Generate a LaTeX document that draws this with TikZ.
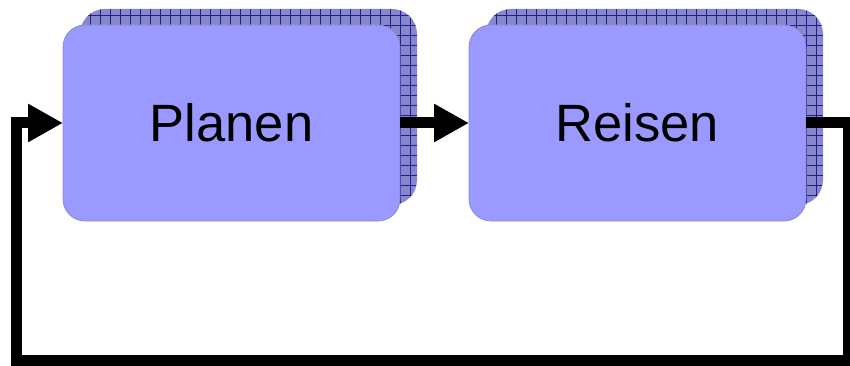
\documentclass[tikz,border=0pt]{standalone}
\usepackage{fontspec}
\setmainfont{Liberation Sans}
\usetikzlibrary{arrows.meta}
\definecolor{frontc}{RGB}{153,153,255}
\definecolor{edgec}{RGB}{140,140,200}
\definecolor{shadc}{RGB}{135,135,205}
\definecolor{gridc}{RGB}{30,30,140}
\begin{document}
\begin{tikzpicture}[x=1pt,y=-1pt,
  box/.style={draw=edgec,line width=0.8pt,fill=frontc,rounded corners=22pt,
    minimum width=337pt,minimum height=196pt,inner sep=0pt,outer sep=0pt,
    font=\fontsize{52.5}{60}\selectfont},
  shadowbox/.style={fill=shadc,rounded corners=25pt,
    minimum width=337pt,minimum height=196pt,inner sep=0pt,outer sep=0pt,
    path picture={
      \foreach \i in {0,10,...,340} {
        \draw[gridc,line width=0.65pt]
          ([xshift=\i pt]path picture bounding box.south west) --
          ([xshift=\i pt]path picture bounding box.north west);}
      \foreach \j in {0,10,...,200} {
        \draw[gridc,line width=0.65pt]
          ([yshift=\j pt]path picture bounding box.south west) --
          ([yshift=\j pt]path picture bounding box.south east);}
    }},
  conn/.style={line width=11pt,miter limit=10,
    -{Triangle[length=35pt,width=36pt]}}
]
\useasboundingbox (0,0) rectangle (850,366);
\node[shadowbox] (planS) at (248.5,107) {};
\node[shadowbox] (reisS) at (654.5,107) {};
\node[box] (plan) at (231.5,123) {Planen};
\node[box] (reis) at (637.5,123) {Reisen};
\coordinate (c1) at (848,123);
\coordinate (c2) at (848,360);
\coordinate (c3) at (16,360);
\coordinate (c4) at (16,123);
\draw[conn] (plan.east) -- (reis.west);
\draw[conn] (reis.east) -- (c1) -- (c2) -- (c3) -- (c4) -- (plan.west);
\end{tikzpicture}
\end{document}
